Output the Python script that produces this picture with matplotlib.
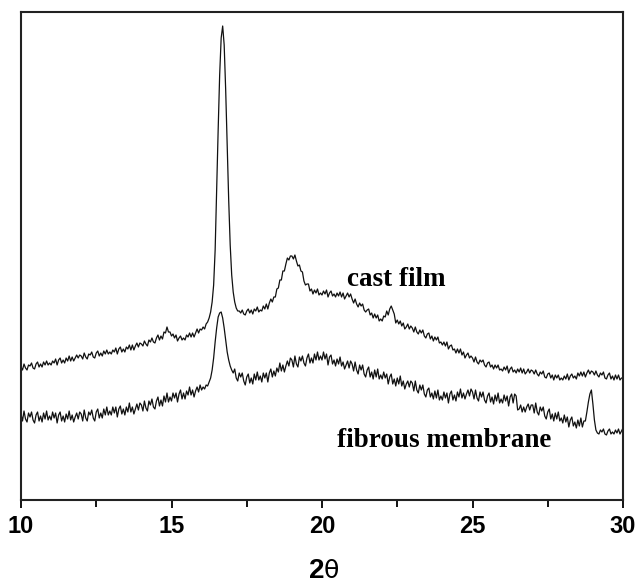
import numpy as np
import matplotlib
matplotlib.use("Agg")
import matplotlib.pyplot as plt

two_theta = np.round(np.arange(10.0, 30.0001, 0.05), 2)

cast_film = [
    133,130,136,132,130,135,134,137,132,131,136,138,133,136,133,138,135,139,135,137,
    135,139,137,141,135,140,142,137,140,137,142,139,144,139,143,139,142,145,142,145,
    144,141,147,143,141,146,145,148,143,142,147,149,144,147,144,149,146,150,146,148,
    146,150,148,152,146,151,153,148,151,148,153,151,155,150,155,150,154,157,153,157,
    156,154,159,156,154,160,158,162,158,157,162,165,160,164,161,168,167,173,168,168,
    164,166,162,165,159,162,164,160,162,160,165,163,167,163,167,163,167,171,167,171,
    170,173,171,176,178,182,188,198,215,250,310,370,425,462,474,455,410,355,300,255,
    225,208,198,192,189,189,187,190,186,185,189,191,187,190,186,191,189,193,188,190,
    189,194,191,196,191,197,201,198,203,203,211,212,220,220,229,229,236,242,240,244,
    244,241,245,239,234,235,229,228,219,215,216,216,209,211,206,210,207,211,205,207,
    205,209,206,210,203,207,209,204,206,203,207,204,208,203,207,201,204,207,203,206,
    201,197,201,196,193,197,194,196,190,188,190,191,185,187,182,186,182,185,179,181,
    179,184,183,189,185,191,194,190,186,177,180,176,179,174,177,171,173,176,171,174,
    172,168,173,168,166,170,167,170,164,162,166,167,161,164,159,163,160,163,157,158,
    155,158,154,158,151,154,155,150,151,147,151,147,151,145,148,142,145,147,142,144,
    142,138,143,138,136,140,138,140,135,133,137,138,133,135,131,135,132,135,130,131,
    129,133,130,134,127,131,133,128,130,127,131,128,132,127,131,126,128,131,127,130,
    129,126,130,126,124,128,126,129,123,122,126,127,122,125,120,125,122,125,120,122,
    120,124,121,126,120,124,126,122,124,121,127,124,128,124,128,123,127,130,126,129,
    128,125,129,125,123,127,125,128,122,121,125,127,121,124,120,125,121,125,120,122,
    122,
]

fibrous_membrane = [
    86,79,89,81,78,87,83,88,80,77,85,88,79,84,78,87,81,89,80,84,
    80,88,82,87,77,85,88,79,84,78,86,81,89,80,85,78,83,87,81,88,
    86,79,90,82,79,88,85,90,82,79,88,91,82,87,82,91,85,93,85,89,
    85,93,87,93,83,91,94,86,91,85,93,88,97,88,93,86,91,96,90,97,
    95,89,99,92,89,99,95,101,93,91,99,103,94,100,94,104,98,107,98,103,
    99,107,102,107,98,106,110,101,107,101,109,105,113,105,110,103,109,113,108,115,
    110,113,111,115,114,118,122,130,142,158,172,183,187,188,182,172,160,148,140,134,
    130,127,131,122,119,127,123,127,119,115,123,126,117,122,116,126,120,128,120,124,
    118,127,122,127,118,127,131,123,129,124,132,128,137,129,135,128,134,139,134,142,
    140,133,144,136,133,143,139,144,137,134,142,146,137,142,137,146,140,148,140,144,
    140,148,141,146,135,143,145,136,140,134,141,136,143,134,138,131,135,139,132,139,
    136,129,138,130,126,135,130,135,126,123,130,133,123,128,121,130,123,131,121,125,
    121,128,122,126,116,123,126,116,121,114,122,116,124,114,119,111,116,119,113,119,
    117,109,119,110,107,115,110,115,106,103,110,112,103,107,101,109,102,110,100,104,
    100,108,102,107,97,106,109,100,105,99,108,103,111,102,107,101,106,110,104,111,
    108,101,110,102,99,108,103,108,100,97,104,107,98,103,96,105,99,107,97,101,
    97,105,99,104,94,103,106,97,106,104,90,91,95,88,93,88,93,96,90,95,
    95,87,97,88,85,93,89,93,84,81,88,91,81,86,79,87,81,88,79,82,
    77,85,78,83,73,80,83,74,78,72,80,74,82,73,79,79,88,98,106,110,
    96,80,70,67,66,70,68,71,66,65,69,71,66,68,66,70,67,71,66,69,
    72,
]

series_labels = ["cast film", "fibrous membrane"]
x_ticks = [10, 15, 20, 25, 30]

fig = plt.figure(figsize=(6.39, 5.84), dpi=100)
ax = fig.add_axes([21/639, 1-500/584, (623-21)/639, (500-12)/584])

ax.plot(two_theta, cast_film, color="#111111", lw=0.9)
ax.plot(two_theta, fibrous_membrane, color="#111111", lw=0.9)

ax.set_xlim(10, 30)
ax.set_ylim(0, 488)
ax.set_xticks(x_ticks)
ax.set_xticks([12.5, 17.5, 22.5, 27.5], minor=True)
ax.set_xticklabels([str(t) for t in x_ticks], fontfamily="Liberation Sans",
                   fontweight="bold", fontsize=17)
ax.set_yticks([])
ax.tick_params(axis="x", which="major", direction="out", length=6, width=1.3, pad=5)
ax.tick_params(axis="x", which="minor", direction="out", length=5, width=1.3)
for s in ax.spines.values():
    s.set_linewidth(1.5)
    s.set_color("#222222")

ax.text(20.83, 214, series_labels[0], fontfamily="Liberation Serif",
        fontweight="bold", fontsize=19.5, ha="left", va="baseline")
ax.text(20.5, 53, series_labels[1], fontfamily="Liberation Serif",
        fontweight="bold", fontsize=19.5, ha="left", va="baseline")

fig.text(324/639, 1-571/584, "2", fontfamily="Liberation Sans", fontweight="bold",
         fontsize=20, ha="right", va="center")
fig.text(324/639, 1-571/584, "θ", fontfamily="DejaVu Sans",
         fontsize=18, ha="left", va="center")

fig.savefig("out.png", dpi=100)
